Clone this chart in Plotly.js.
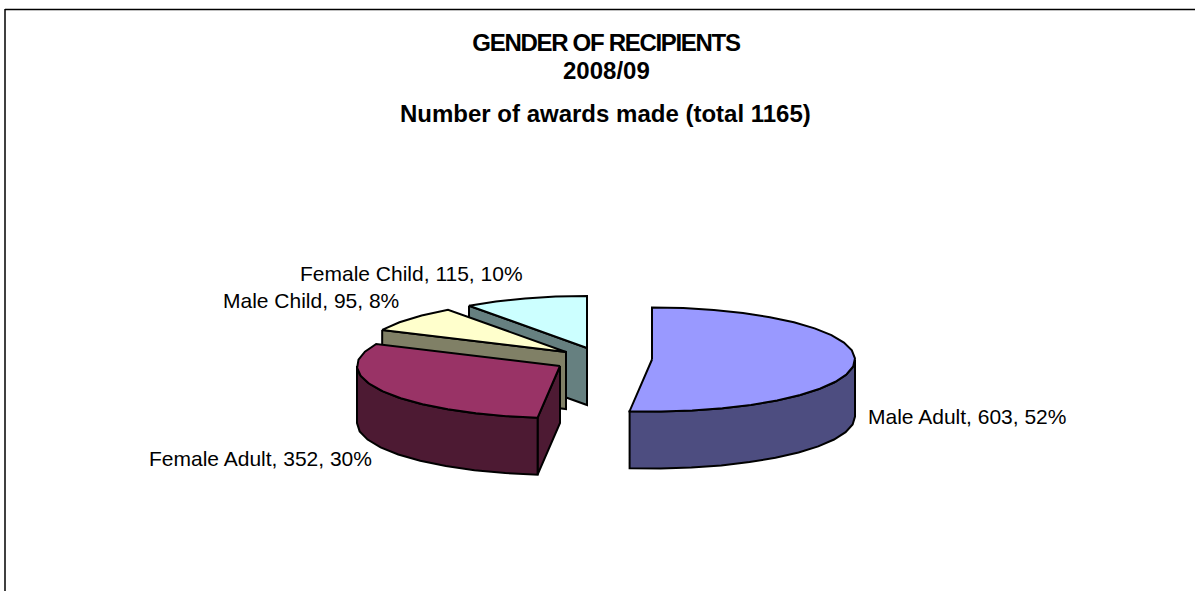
<!DOCTYPE html>
<html><head><meta charset="utf-8">
<script src="https://cdn.plot.ly/plotly-3.0.1.min.js"></script>
<style>html,body{margin:0;padding:0;background:#fff}#c{width:1195px;height:591px}
.gtitle{letter-spacing:-1.3px}</style>
</head><body><div id="c"></div>
<script>
const categories = ["Male Adult", "Female Adult", "Male Child", "Female Child"];
const awards = [603, 352, 95, 115];
const topColors = ["#9999FF", "#993366", "#FFFFCC", "#CCFFFF"];
const sideColors = ["#4D4D80", "#4D1A33", "#808066", "#668080"];
const centres = [[652, 359.5], [560, 366], [566, 352], [587, 348]];
const labelAnchors = [[866, 416], [147, 458], [221, 300], [298, 273]];
const RX = 203, RY = 52, DEPTH = 57, STEP = 9;
const FONT = "Liberation Sans, Arial, sans-serif";

const total = awards.reduce((a, b) => a + b, 0);
const pt = (c, deg, d = 0) => {
  const r = deg * Math.PI / 180;
  return [c[0] + RX * Math.sin(r), c[1] - RY * Math.cos(r) + d];
};
function arc(c, a, b, d) {
  const p = [];
  const n = Math.max(1, Math.round((b - a) / STEP));
  for (let i = 0; i <= n; i++) p.push(pt(c, a + (b - a) * i / n, d));
  return p;
}
function poly(points, fill, name) {
  return {
    type: "scatter", mode: "lines", x: points.map(p => p[0]), y: points.map(p => p[1]),
    fill: "toself", fillcolor: fill, line: { color: "#000", width: 2, shape: "linear" },
    hoverinfo: "text", text: name, showlegend: false
  };
}
let start = 0;
const spans = awards.map(v => { const s = [start, start + v / total * 360]; start = s[1]; return s; });
const traces = [];
for (let i = categories.length - 1; i >= 0; i--) {
  const c = centres[i], a = spans[i][0], b = spans[i][1], name = categories[i];
  // cut wall at the start angle; the Male Adult slice turns its wall away from the viewer
  if (i >= 1) {
    const e = pt(c, a), e2 = pt(c, a, DEPTH);
    traces.push(poly([e, c, [c[0], c[1] + DEPTH], e2, e], sideColors[i], name));
  }
  // outer rim over the front half of the ellipse
  const ra = Math.max(a, 90), rb = Math.min(b, 270);
  if (rb > ra) {
    const upper = arc(c, ra, rb, 0), lower = arc(c, ra, rb, DEPTH).reverse();
    traces.push(poly(upper.concat(lower, [upper[0]]), sideColors[i], name));
  }
  // top face
  traces.push(poly([c].concat(arc(c, a, b, 0), [c]), topColors[i], name));
}
const ann = (x, y, text, size, anchor) => ({
  x, y, xref: "x", yref: "y", text, showarrow: false, xanchor: anchor, yanchor: "middle",
  font: { family: FONT, size, color: "#000" }
});
const annotations = categories.map((n, i) =>
  ann(labelAnchors[i][0], labelAnchors[i][1],
    n + ", " + awards[i] + ", " + Math.round(awards[i] / total * 100) + "%", 21, "left"));
annotations.push(ann(606, 70, "<b>2008/09</b>", 24, "center"));
annotations.push(ann(605, 113, "<b>Number of awards made (total 1165)</b>", 24, "center"));
const layout = {
  width: 1195, height: 591, margin: { l: 0, r: 0, t: 0, b: 0 },
  paper_bgcolor: "#fff", plot_bgcolor: "#fff", showlegend: false,
  title: { text: "<b>GENDER OF RECIPIENTS</b>", font: { family: FONT, size: 24, color: "#000" },
    x: 606 / 1195, xanchor: "center", y: 1 - 43 / 591, yanchor: "middle" },
  xaxis: { range: [0, 1195], visible: false, fixedrange: true },
  yaxis: { range: [591, 0], visible: false, fixedrange: true },
  annotations,
  shapes: [
    { type: "line", xref: "x", yref: "y", x0: 5, x1: 1195, y0: 9.5, y1: 9.5, line: { color: "#000", width: 1.5 } },
    { type: "line", xref: "x", yref: "y", x0: 5, x1: 5, y0: 9, y1: 591, line: { color: "#000", width: 1.5 } }
  ]
};
Plotly.newPlot("c", traces, layout, { staticPlot: true, displayModeBar: false });
</script></body></html>
